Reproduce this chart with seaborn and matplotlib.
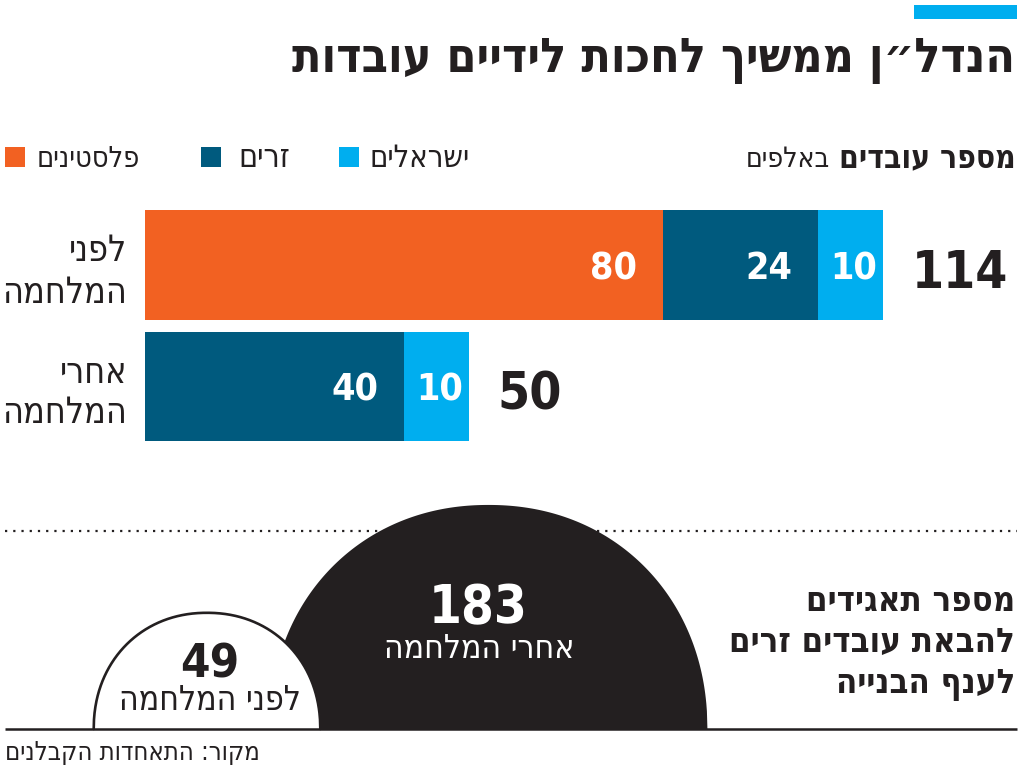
import numpy as np
import pandas as pd
import matplotlib
matplotlib.use("Agg")
import matplotlib.pyplot as plt
from matplotlib.patches import Rectangle
import seaborn as sns

# ---------------- data ----------------
categories = ["לפני המלחמה", "אחרי המלחמה"]
palestinians = [80, 0]
foreigners = [24, 40]
israelis = [10, 10]
legend_labels = ["פלסטינים", "זרים", "ישראלים"]

corp_labels = ["לפני המלחמה", "אחרי המלחמה"]
corporations = [49, 183]

title = "הנדל״ן ממשיך לחכות לידיים עובדות"
subtitle_bold = "מספר עובדים"
subtitle_reg = "באלפים"
corp_title = ["מספר תאגידים", "להבאת עובדים זרים", "לענף הבנייה"]
source = "מקור: התאחדות הקבלנים"

# ---------------- style ----------------
ORANGE = "#F26122"
DARK = "#005A7E"
LIGHT = "#00AEEF"
INK = "#231F20"

sns.set_theme(style="white")
plt.rcParams["font.family"] = ["DejaVu Sans"]
plt.rcParams["font.stretch"] = "condensed"


def rtl(s):
    return s[::-1]


W, H = 1024, 769
fig = plt.figure(figsize=(W / 100, H / 100), dpi=100)
renderer = fig.canvas.get_renderer()

# ---------------- stacked bars (seaborn) ----------------
df = pd.DataFrame({"cat": categories, "pal": palestinians,
                   "for": foreigners, "isr": israelis})
df["c_for"] = df["pal"] + df["for"]
df["c_tot"] = df["c_for"] + df["isr"]

bax = fig.add_axes([145 / W, 1 - 447.25 / H, 738 / W, 243 / H], zorder=1)
for col, colr in [("c_tot", LIGHT), ("c_for", DARK), ("pal", ORANGE)]:
    sns.barplot(data=df, y="cat", x=col, color=colr, orient="h", width=0.905,
                saturation=1, errorbar=None, linewidth=0, ax=bax)
bax.set_xlim(0, df["c_tot"].max())
bax.set_ylim(1.5, -0.5)
bax.axis("off")

PT = 0.72  # points per pixel
for i, row in df.iterrows():
    segs = [(row["pal"], row["pal"], False), (row["for"], row["c_for"], False),
            (row["isr"], row["c_tot"], True)]
    for val, end, centered in segs:
        if val <= 0:
            continue
        if centered:
            bax.annotate(str(val), xy=(end - val / 2, i), xytext=(3 * PT, -14 * PT),
                         textcoords="offset points", ha="center", va="baseline",
                         color="white", fontsize=27, fontweight="bold")
        else:
            bax.annotate(str(val), xy=(end, i), xytext=(-26 * PT, -14 * PT),
                         textcoords="offset points", ha="right", va="baseline",
                         color="white", fontsize=27, fontweight="bold")
    bax.annotate(str(row["c_tot"]), xy=(row["c_tot"], i), xytext=(29 * PT, -23 * PT),
                 textcoords="offset points", ha="left", va="baseline",
                 color=INK, fontsize=37, fontweight="bold", annotation_clip=False)

# ---------------- overlay (pixel coords) ----------------
ov = fig.add_axes([0, 0, 1, 1], zorder=2)
ov.set_xlim(0, W)
ov.set_ylim(H, 0)
ov.axis("off")
ov.patch.set_alpha(0)


def txt(x, y, s, width=None, size=20, bold=False, ha="right", color=INK, maxsize=None, z=6):
    t = ov.text(x, y, rtl(s), ha=ha, va="baseline", fontsize=size,
                fontweight="bold" if bold else "normal", color=color, zorder=z)
    if width is not None:
        bb = t.get_window_extent(renderer)
        fs = size * width / bb.width
        if maxsize is not None:
            fs = min(fs, maxsize)
        t.set_fontsize(fs)
    return t


# top accent bar
ov.add_patch(Rectangle((914, 5), 103, 14, color=LIGHT, lw=0))
# title
txt(1015, 72, title, width=725, size=34, bold=True)

# subtitle
txt(1016, 167, subtitle_bold, width=176, size=22, bold=True)
txt(830, 167, subtitle_reg, width=84, size=22)

# legend
leg = [(5, 140, ORANGE), (201, 290, DARK), (339, 470, LIGHT)]
for (sx, tx, c), lab, wd in zip(leg, legend_labels, [103, 56, 100]):
    ov.add_patch(Rectangle((sx, 147), 20, 20, color=c, lw=0))
    txt(tx, 167, lab, width=wd, size=20, maxsize=23)

# category labels
cat_base = [(261, 303), (383, 423)]
for lab, (y1, y2) in zip(categories, cat_base):
    first, second = lab.split(" ")
    t2 = txt(127, y2, second, width=124, size=22)
    txt(127, y1, first, size=t2.get_fontsize())

# dotted separator and baseline
ov.plot([5, 1017], [531, 531], color=INK, lw=1.6, ls=(0, (1, 2.7)), zorder=1)
ov.plot([5, 1017], [729, 729], color=INK, lw=1.8, zorder=4, solid_capstyle="butt")

# domes (area proportional: height ~ sqrt(value))
k = 16.6
base = 729
centers = {49: 207, 183: 488}
order = np.argsort(corporations)[::-1]
tt = np.linspace(-1, 1, 800)
for idx in order:
    val = corporations[idx]
    h = k * np.sqrt(val)
    a = h * 0.975
    yy = h * (1 - np.abs(tt) ** 2.1) ** (1 / 2.1)
    cx = centers[val]
    if idx == order[0]:
        ov.fill_between(cx + a * tt, base, base - yy, color=INK, lw=0, zorder=2)
    else:
        ov.fill_between(cx + a * tt, base, base - yy, facecolor="white", lw=0, zorder=3)
        ov.plot(cx + a * tt, base - yy, color=INK, lw=1.9, zorder=3)

# dome labels
ov.text(478, 623, str(corporations[1]), ha="center", va="baseline", fontsize=38,
        fontweight="bold", color="white", zorder=6)
txt(479, 658, corp_labels[1], width=190, size=22, ha="center", color="white")
ov.text(210, 678, str(corporations[0]), ha="center", va="baseline", fontsize=34,
        fontweight="bold", color=INK, zorder=6)
txt(210, 710, corp_labels[0], width=182, size=22, ha="center")

# right-hand title of lower panel
t2 = txt(1015, 652, corp_title[1], width=285, size=26, bold=True)
txt(1015, 611, corp_title[0], size=t2.get_fontsize(), bold=True)
txt(1015, 693, corp_title[2], size=t2.get_fontsize(), bold=True)

# source
txt(5, 760, source, width=255, size=18, ha="left")

fig.savefig("out.png", dpi=100)
